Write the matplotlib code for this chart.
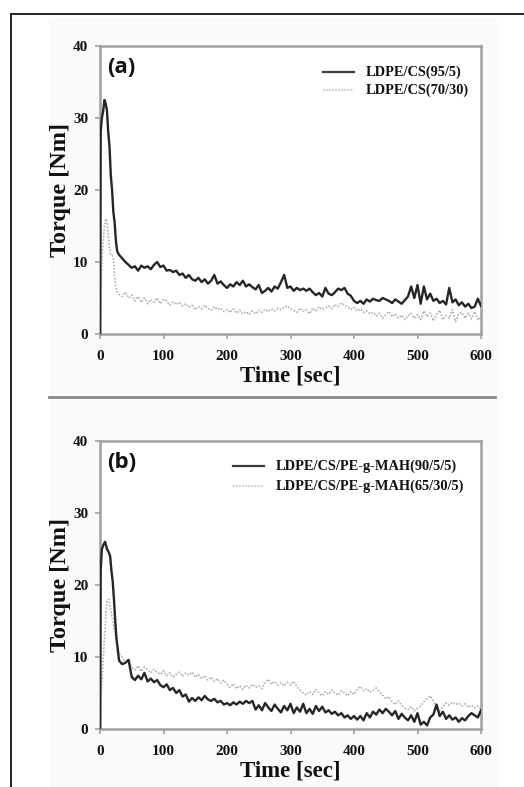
import matplotlib
matplotlib.use("Agg")
import matplotlib.pyplot as plt
from matplotlib.lines import Line2D
from matplotlib.patches import Rectangle

# ---------------- data ----------------
tail_t = list(range(35, 601, 5))

# Panel (a)
a1_t = [0, 1, 3, 5, 7, 9, 11, 13, 15, 17, 19, 21, 23, 25, 27, 30] + tail_t
a1_v = [0, 28, 30, 31, 32.5, 32, 31, 28, 26, 22, 20, 17, 15.5, 13, 11.5, 11,
        10.5, 10.0, 9.6, 9.2, 9.4, 8.8, 9.5, 9.2, 9.4, 9.0,
        9.6, 10.0, 9.3, 9.5, 8.8, 8.9, 8.6, 8.8, 8.2, 8.4,
        7.8, 8.2, 7.6, 7.4, 7.8, 7.2, 7.6, 7.0, 7.4, 8.2,
        7.0, 7.3, 6.8, 6.4, 6.9, 6.6, 7.2, 6.8, 7.4, 6.6,
        6.9, 6.5, 6.2, 6.8, 5.7, 6.0, 6.4, 5.9, 6.6, 6.3,
        7.2, 8.2, 6.4, 6.6, 6.0, 6.4, 6.1, 6.3, 6.0, 6.3,
        5.8, 5.4, 5.7, 5.2, 6.4, 5.6, 5.4, 5.8, 6.3, 6.1,
        6.4, 5.6, 5.3, 4.6, 4.3, 4.6, 4.2, 4.8, 4.5, 4.9,
        4.7, 4.6, 5.0, 4.8, 4.6, 4.3, 4.8, 4.5, 4.2, 4.7,
        5.2, 6.6, 5.0, 6.8, 4.2, 6.6, 4.8, 5.6, 4.6, 4.9,
        4.3, 4.6, 4.1, 6.4, 4.4, 4.8, 4.0, 4.4, 3.8, 4.2,
        3.6, 3.8, 4.9, 3.9]

a2_t = [0, 1, 3, 5, 7, 9, 11, 13, 15, 17, 19, 21, 23, 25, 27, 30] + tail_t
a2_v = [0, 3, 10, 13, 15, 16, 15.5, 14, 12, 11, 11, 10.5, 8, 6.5, 5.8, 5.5,
        5.2, 5.8, 5.0, 5.4, 4.6, 5.2, 4.4, 5.0, 4.2, 4.8,
        4.4, 5.0, 4.2, 4.8, 4.6, 4.0, 4.5, 4.1, 4.4, 3.9,
        4.2, 3.7, 4.0, 3.4, 3.8, 3.5, 4.0, 3.6, 3.3, 3.8,
        3.4, 3.6, 3.1, 3.4, 3.0, 3.5, 2.9, 3.3, 2.8, 3.1,
        2.7, 3.2, 2.8, 3.3, 3.0, 3.4, 3.1, 3.5, 3.2, 3.6,
        3.4, 3.7, 3.9, 3.5, 3.3, 3.0, 3.6, 3.2, 3.4, 2.8,
        3.6, 3.2, 3.8, 3.4, 3.6, 3.9, 3.5, 4.1, 3.8, 4.3,
        4.0, 3.8, 3.4, 3.7, 3.2, 3.5, 3.0, 3.2, 2.8, 3.0,
        2.5, 2.9, 2.2, 2.7, 3.1, 2.4, 2.8, 2.2, 2.6, 2.0,
        2.5, 2.9, 2.2, 2.7, 2.0, 3.2, 2.4, 2.9, 1.8, 2.7,
        3.3, 2.0, 2.6, 2.2, 3.4, 1.7, 2.8, 3.0, 2.2, 2.9,
        2.1, 3.1, 1.9, 2.6]

# Panel (b)
b1_t = [0, 1, 3, 5, 8, 11, 14, 16, 18, 20, 22, 24, 26, 28, 30] + tail_t
b1_v = [0, 22, 25, 25.5, 26, 25, 24.5, 24, 22, 20.5, 18, 15, 12.5, 11, 9.5,
        9.0, 9.2, 9.6, 7.2, 6.8, 7.4, 6.9, 7.8, 6.6, 7.0,
        6.5, 6.8, 6.1, 5.8, 6.2, 5.4, 5.7, 5.0, 5.4, 4.5,
        4.8, 3.8, 4.3, 3.9, 4.4, 4.0, 4.6, 4.1, 3.9, 4.2,
        3.7, 3.9, 3.4, 3.6, 3.3, 3.7, 3.4, 3.8, 3.5, 3.9,
        3.6, 3.9, 2.7, 3.3, 2.6, 3.6, 3.0, 2.5, 3.4, 2.8,
        2.3, 3.2, 2.6, 3.5, 2.2, 3.0, 2.4, 3.5, 2.2, 2.8,
        2.1, 3.2, 2.5, 3.1, 2.3, 2.6, 2.1, 2.4, 1.9, 2.2,
        1.6, 1.9, 1.4, 1.8, 1.3, 1.8, 1.2, 2.2, 1.6, 2.4,
        2.0, 2.7, 2.2, 2.8, 2.4, 1.9, 2.5, 1.4, 2.1, 1.6,
        1.2, 1.9, 1.0, 2.2, 0.6, 1.0, 0.5, 1.6, 2.0, 3.4,
        1.8, 2.4, 1.4, 1.9, 1.3, 1.6, 1.0, 1.5, 1.2, 1.8,
        2.2, 1.9, 1.6, 2.6]

b2_t = [0, 2, 4, 6, 8, 10, 12, 14, 16, 18, 20, 22, 24, 26, 28, 30] + tail_t
b2_v = [0, 5, 8, 11, 14, 17, 18, 18, 17, 16, 15, 14, 13, 12.5, 11.5, 10.5,
        10.0, 9.2, 9.6, 8.6, 8.2, 8.8, 8.0, 8.6, 8.2, 7.8,
        8.3, 7.9, 7.6, 8.1, 7.4, 7.8, 7.2, 7.6, 7.9, 7.3,
        7.8, 7.5, 7.9, 7.2, 7.6, 7.0, 7.4, 6.8, 7.2, 6.6,
        7.0, 6.4, 6.8, 6.2, 5.8, 6.3, 5.6, 6.0, 5.5, 6.1,
        5.7, 6.2, 5.8, 6.0, 5.6, 6.5, 6.9, 6.2, 6.6, 6.1,
        6.4, 6.0, 6.5, 6.1, 6.6, 5.9, 5.4, 5.0, 4.7, 5.2,
        4.8, 5.5, 5.0, 4.6, 5.2, 4.8, 5.4, 5.0, 4.7, 5.3,
        5.0, 4.6, 5.2, 4.8, 5.5, 5.9, 5.3, 5.6, 5.1, 5.4,
        5.7, 5.2, 4.7, 4.2, 4.5, 3.8, 3.4, 3.9, 3.3, 2.9,
        2.7, 3.1, 2.5, 2.9, 3.2, 3.8, 4.2, 4.6, 3.9, 2.8,
        2.5, 3.1, 3.6, 3.3, 3.7, 3.4, 3.6, 3.2, 3.5, 3.0,
        3.3, 2.9, 3.2, 2.8]

x_ticks = [0, 100, 200, 300, 400, 500, 600]
y_ticks = [0, 10, 20, 30, 40]

panels = [
    ("(a)", (a1_t, a1_v, "LDPE/CS(95/5)"), (a2_t, a2_v, "LDPE/CS(70/30)")),
    ("(b)", (b1_t, b1_v, "LDPE/CS/PE-g-MAH(90/5/5)"),
     (b2_t, b2_v, "LDPE/CS/PE-g-MAH(65/30/5)")),
]

# ---------------- figure ----------------
W, H = 524, 787
fig = plt.figure(figsize=(W / 100, H / 100), dpi=100)
fig.patch.set_facecolor("white")

def fx(px):
    return px / W

def fy(py):
    return 1 - py / H

# background axes for decoration
bg = fig.add_axes([0, 0, 1, 1], zorder=-5)
bg.set_xlim(0, W)
bg.set_ylim(H, 0)
bg.axis("off")
bg.add_patch(Rectangle((49, 18), 448, H - 18, facecolor="#fafafa",
                       edgecolor="none"))
bg.plot([11, 11], [14, H], color="#222222", lw=1.4)
bg.plot([11, W], [14, 14], color="#222222", lw=1.4)
bg.plot([49, 495], [397, 397], color="#888888", lw=2.0)

serif = "Liberation Serif"
axes_pos = [(46, 334), (441, 729)]
legend_x = [323, 233]
legend_y = [(72, 90), (466, 486)]

for i, (tag, s1, s2) in enumerate(panels):
    top, bot = axes_pos[i]
    ax = fig.add_axes([fx(100), fy(bot), fx(481) - fx(100), fy(top) - fy(bot)],
                      zorder=2)
    ax.set_facecolor("white")
    ax.plot(s2[0], s2[1], color="#b0b0b0", lw=1.2, ls=(0, (1, 1)), label=s2[2], zorder=2)
    ax.plot(s1[0], s1[1], color="#262626", lw=1.7, label=s1[2], zorder=3)
    ax.set_xlim(0, 600)
    ax.set_ylim(0, 40)
    ax.set_xticks(x_ticks)
    ax.set_yticks(y_ticks)
    ax.set_xticklabels([str(v) for v in x_ticks], fontfamily=serif,
                       fontweight="bold", fontsize=11)
    ax.set_yticklabels([str(v) for v in y_ticks], fontfamily=serif,
                       fontweight="bold", fontsize=11)
    for sp in ax.spines.values():
        sp.set_color("#a0a0a0")
        sp.set_linewidth(1.8)
    ax.tick_params(direction="out", length=3.5, width=1.2, color="#a0a0a0",
                   labelcolor="#111111")
    ax.tick_params(axis="x", pad=8)
    ax.tick_params(axis="y", pad=5)
    ax.set_xlabel("Time [sec]", fontfamily=serif, fontweight="bold",
                  fontsize=16.5, labelpad=2, color="#111111")
    ax.set_ylabel("Torque [Nm]", fontfamily=serif, fontweight="bold",
                  fontsize=17.5, labelpad=1, color="#111111")
    ax.text(0.018, 0.925, tag, transform=ax.transAxes, fontfamily="Open Sans",
            fontweight="bold", fontsize=16, va="center", ha="left",
            color="#111111")
    # legend drawn in figure pixel coordinates on top
    lx0 = legend_x[i]
    for (ly, s, style) in zip(legend_y[i], (s1, s2),
                              (dict(color="#3a3a3a", lw=1.6, ls="-"),
                               dict(color="#b8b8b8", lw=1.1, ls=(0, (1, 1))))):
        fig.add_artist(Line2D([fx(lx0), fx(lx0 + 31)], [fy(ly), fy(ly)],
                              transform=fig.transFigure, zorder=5, **style))
        fig.text(fx(lx0 + 43), fy(ly), s[2], fontfamily=serif,
                 fontweight="bold", fontsize=10.4, va="center", ha="left",
                 color="#111111", zorder=5)

fig.savefig("out.png", dpi=100)
